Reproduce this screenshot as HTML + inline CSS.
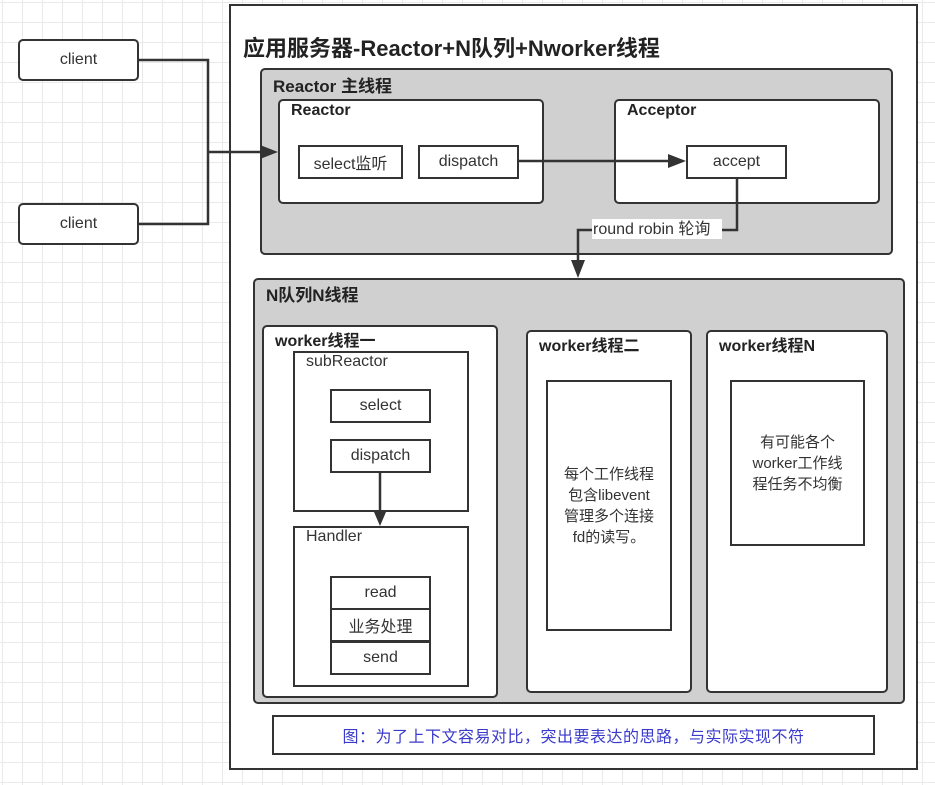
<!DOCTYPE html>
<html><head><meta charset="utf-8"><style>
body{margin:0;width:935px;height:785px;position:relative;overflow:hidden;background:#fff;
background-image:linear-gradient(#e9e9e9 1px,transparent 1px),linear-gradient(90deg,#e9e9e9 1px,transparent 1px);background-size:20px 20px;background-position:2px 2px;
font-family:"Liberation Sans","Noto Sans CJK SC",sans-serif;color:#222}
.b{position:absolute;box-sizing:border-box;border:2px solid #333;background:#fff}
.r{border-radius:5px}
.g{background:#d0d0d0}
.c{display:flex;align-items:center;justify-content:center;font-size:16px;color:#333}
.t{position:absolute;font-weight:bold;font-size:16px;white-space:nowrap}
.n{position:absolute;font-size:16px;color:#333;white-space:nowrap}
svg{position:absolute;left:0;top:0}
</style></head><body>
<div class="b r c" style="left:18px;top:39px;width:121px;height:42px">client</div>
<div class="b r c" style="left:18px;top:203px;width:121px;height:42px">client</div>
<div class="b" style="left:229px;top:4px;width:689px;height:766px"></div>
<div class="t" style="left:243px;top:31px;font-size:22px">应用服务器-Reactor+N队列+Nworker线程</div>

<div class="b r g" style="left:260px;top:68px;width:633px;height:187px"></div>
<div class="t" style="left:273px;top:72px;font-size:17px">Reactor 主线程</div>
<div class="b r" style="left:278px;top:99px;width:266px;height:105px"></div>
<div class="t" style="left:291px;top:102px">Reactor</div>
<div class="b c" style="left:298px;top:145px;width:105px;height:34px">select监听</div>
<div class="b c" style="left:418px;top:145px;width:101px;height:34px">dispatch</div>
<div class="b r" style="left:614px;top:99px;width:266px;height:105px"></div>
<div class="t" style="left:627px;top:102px">Acceptor</div>
<div class="b c" style="left:686px;top:145px;width:101px;height:34px">accept</div>

<div class="b r g" style="left:253px;top:278px;width:652px;height:426px"></div>
<div class="t" style="left:266px;top:281px;font-size:17px">N队列N线程</div>
<div class="b r" style="left:262px;top:325px;width:236px;height:373px"></div>
<div class="t" style="left:275px;top:327px">worker线程一</div>
<div class="b" style="left:293px;top:351px;width:176px;height:161px"></div>
<div class="n" style="left:306px;top:353px">subReactor</div>
<div class="b c" style="left:330px;top:389px;width:101px;height:34px">select</div>
<div class="b c" style="left:330px;top:439px;width:101px;height:34px">dispatch</div>
<div class="b" style="left:293px;top:526px;width:176px;height:161px"></div>
<div class="n" style="left:306px;top:528px">Handler</div>
<div class="b c" style="left:330px;top:576px;width:101px;height:34px">read</div>
<div class="b c" style="left:330px;top:608px;width:101px;height:34px">业务处理</div>
<div class="b c" style="left:330px;top:641px;width:101px;height:34px">send</div>

<div class="b r" style="left:526px;top:330px;width:166px;height:363px"></div>
<div class="t" style="left:539px;top:332px">worker线程二</div>
<div class="b c" style="left:546px;top:380px;width:126px;height:251px;font-size:15px;line-height:21px;text-align:center">每个工作线程<br>包含libevent<br>管理多个连接<br>fd的读写。</div>
<div class="b r" style="left:706px;top:330px;width:182px;height:363px"></div>
<div class="t" style="left:719px;top:332px">worker线程N</div>
<div class="b c" style="left:730px;top:380px;width:135px;height:166px;font-size:15px;line-height:21px;text-align:center">有可能各个<br>worker工作线<br>程任务不均衡</div>

<div class="b c" style="left:272px;top:715px;width:603px;height:40px;color:#3a3acc;font-size:16px;letter-spacing:0.5px">图：为了上下文容易对比，突出要表达的思路，与实际实现不符</div>

<svg width="935" height="785">
<g stroke="#333" stroke-width="2.5" fill="none">
<polyline points="139,60 208,60 208,224 139,224"/>
<line x1="208" y1="152" x2="266" y2="152"/>
<line x1="519" y1="161" x2="674" y2="161"/>
<polyline points="737,179 737,230 578,230 578,266"/>
<line x1="380" y1="473" x2="380" y2="514"/>
</g>
<g fill="#333">
<polygon points="278,152 260,145 260,159"/>
<polygon points="686,161 668,154 668,168"/>
<polygon points="578,278 571,260 585,260"/>
<polygon points="380,526 374,512 386,512"/>
</g>
<rect x="592" y="219" width="130" height="20" fill="#fff"/>
<text x="593" y="234" font-size="16" fill="#333" font-family="Liberation Sans, Noto Sans CJK SC, sans-serif">round robin 轮询</text>
</svg>
</body></html>
